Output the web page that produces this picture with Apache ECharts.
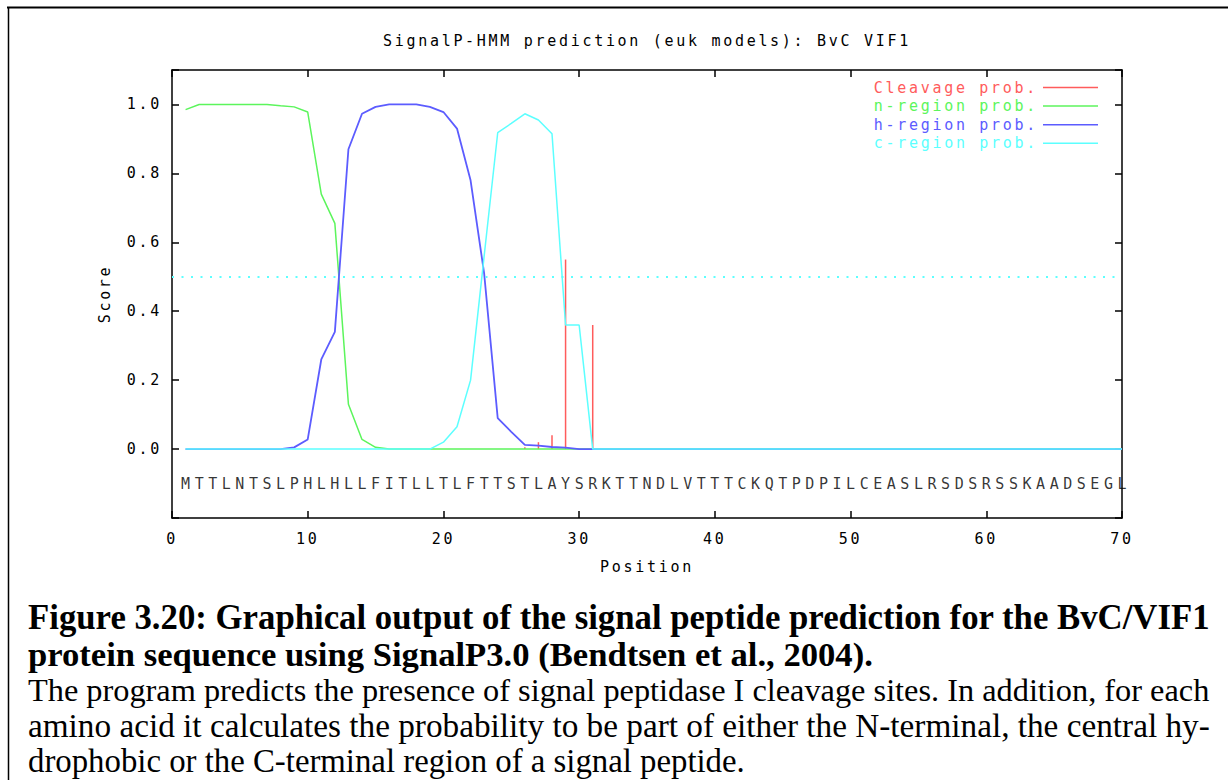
<!DOCTYPE html>
<html>
<head>
<meta charset="utf-8">
<script src="https://cdn.jsdelivr.net/npm/echarts@6/dist/echarts.min.js"></script>
<style>
  html, body { margin: 0; padding: 0; background: #fff; }
  #chart { width: 1228px; height: 780px; }
  #chart svg text[style*="Mono"] { letter-spacing: 2.7px; }
</style>
</head>
<body>
<div id="chart"></div>
<script>
// ---- data ----
const titleText = 'SignalP-HMM prediction (euk models): BvC VIF1';
const sequence = ['M','T','T','L','N','T','S','L','P','H','L','H','L','L','F','I','T','L','L','T',
                  'L','F','T','T','S','T','L','A','Y','S','R','K','T','T','N','D','L','V','T','T',
                  'T','C','K','Q','T','P','D','P','I','L','C','E','A','S','L','R','S','D','S','R',
                  'S','S','K','A','A','D','S','E','G','L'];
const seriesNames = ['Cleavage prob.', 'n-region prob.', 'h-region prob.', 'c-region prob.'];
const cleavage = [0,0,0,0,0,0,0,0,0,0, 0,0,0,0,0,0,0,0,0,0, 0,0,0,0,0,0.005,0.02,0.04,0.55,0,
                  0.36,0,0,0,0,0,0,0,0,0, 0,0,0,0,0,0,0,0,0,0, 0,0,0,0,0,0,0,0,0,0, 0,0,0,0,0,0,0,0,0,0];
const nRegion = [0.985,1,1,1,1,1,1,0.996,0.993,0.978, 0.74,0.655,0.13,0.028,0.005,0,0,0,0,0,
                 0,0,0,0,0,0,0,0,0,0, 0,0,0,0,0,0,0,0,0,0, 0,0,0,0,0,0,0,0,0,0, 0,0,0,0,0,0,0,0,0,0, 0,0,0,0,0,0,0,0,0,0];
const hRegion = [0,0,0,0,0,0,0,0,0.005,0.028, 0.26,0.34,0.87,0.973,0.993,1,1,1,0.993,0.978,
                 0.93,0.78,0.51,0.09,0.05,0.012,0.01,0.006,0.004,0, 0,0,0,0,0,0,0,0,0,0,
                 0,0,0,0,0,0,0,0,0,0, 0,0,0,0,0,0,0,0,0,0, 0,0,0,0,0,0,0,0,0,0];
const cRegion = [0,0,0,0,0,0,0,0,0,0, 0,0,0,0,0,0,0,0,0,0.02, 0.065,0.2,0.56,0.918,0.945,0.973,0.955,0.915,0.36,0.36,
                 0,0,0,0,0,0,0,0,0,0, 0,0,0,0,0,0,0,0,0,0, 0,0,0,0,0,0,0,0,0,0, 0,0,0,0,0,0,0,0,0,0];
const cutoff = 0.5;
const xTicks = [0, 10, 20, 30, 40, 50, 60, 70];
const yTicks = [0.0, 0.2, 0.4, 0.6, 0.8, 1.0];
const captionLines = [
  'Figure 3.20: Graphical output of the signal peptide prediction for the BvC/VIF1',
  'protein sequence using SignalP3.0 (Bendtsen et al., 2004).',
  'The program predicts the presence of signal peptidase I cleavage sites. In addition, for each',
  'amino acid it calculates the probability to be part of either the N-terminal, the central hy-',
  'drophobic or the C-terminal region of a signal peptide.'
];

// ---- styles ----
const colors = ['#ff5c5c', '#5cf55c', '#5c5cff', '#5cffff'];
const MONO = 'DejaVu Sans Mono';
const FS = 15;
const LS = 2.7;

const toXY = arr => arr.map((v, i) => [i + 1, v]);

// caption font fitting
const mctx = document.createElement('canvas').getContext('2d');
function fit(text, weight, target) {
  mctx.font = weight + ' 100px "Liberation Serif"';
  return 100 * target / mctx.measureText(text).width;
}
const boldSize = fit(captionLines[1], 'bold', 845);
const l1Size = fit(captionLines[0], 'bold', 1182);
const l3Size = fit(captionLines[2], 'normal', 1182);
const l4Size = fit(captionLines[3], 'normal', 1182);
const normSize = (l3Size + l4Size) / 2;
const capSizes = [l1Size, boldSize, l3Size, l4Size, normSize];
const capWeights = ['bold', 'bold', 'normal', 'normal', 'normal'];
const capY = [617, 654, 690, 725, 761];

const chart = echarts.init(document.getElementById('chart'), null, { renderer: 'svg' });

const axisLineStyle = { show: true, onZero: false, lineStyle: { color: '#000', width: 1.5 } };
const tickStyle = { show: true, inside: true, length: 7, lineStyle: { color: '#000', width: 1.5 } };

const option = {
  animation: false,
  backgroundColor: '#fff',
  title: {
    text: titleText,
    left: 383,
    top: 33,
    padding: 0,
    textStyle: { fontFamily: MONO, fontSize: FS, fontWeight: 'normal', color: '#000' }
  },
  legend: {
    orient: 'vertical',
    right: 130,
    top: 80,
    padding: 0,
    align: 'right',
    icon: 'rect',
    itemWidth: 55,
    itemHeight: 1.5,
    itemGap: 3.6,
    selectedMode: false,
    textStyle: { fontFamily: MONO, fontSize: FS },
    data: seriesNames.map((n, i) => ({ name: n, textStyle: { color: colors[i] } }))
  },
  grid: { left: 172, right: 106, top: 70, bottom: 262, containLabel: false, outerBoundsMode: 'none' },
  xAxis: [
    {
      type: 'value', min: 0, max: 70, interval: 10, position: 'bottom',
      name: 'Position', nameLocation: 'middle', nameGap: 41,
      nameTextStyle: { fontFamily: MONO, fontSize: FS, color: '#000' },
      axisLine: axisLineStyle, axisTick: tickStyle, splitLine: { show: false },
      axisLabel: { margin: 13, fontFamily: MONO, fontSize: FS, color: '#000',
        formatter: v => (xTicks.indexOf(v) >= 0 ? String(v) : '') }
    },
    {
      type: 'value', min: 0, max: 70, interval: 10, position: 'top',
      axisLine: axisLineStyle, axisTick: tickStyle, splitLine: { show: false },
      axisLabel: { show: false }
    }
  ],
  yAxis: [
    {
      type: 'value', min: -0.2, max: 1.1, interval: 0.2, position: 'left',
      name: 'Score', nameLocation: 'middle', nameGap: 60,
      nameTextStyle: { fontFamily: MONO, fontSize: FS, color: '#000' },
      axisLine: axisLineStyle, axisTick: tickStyle, splitLine: { show: false },
      axisLabel: { margin: 10, fontFamily: MONO, fontSize: FS, color: '#000',
        formatter: v => {
          const r = Math.round(v * 10) / 10;
          return (yTicks.some(t => Math.abs(t - r) < 1e-9) && Math.abs(v - r) < 1e-6) ? r.toFixed(1) : '';
        } }
    },
    {
      type: 'value', min: -0.2, max: 1.1, interval: 0.2, position: 'right',
      axisLine: axisLineStyle, axisTick: tickStyle, splitLine: { show: false },
      axisLabel: { show: false }
    }
  ],
  series: [
    {
      name: seriesNames[0], type: 'bar', xAxisIndex: 0, yAxisIndex: 0,
      data: toXY(cleavage), barWidth: 1.5, itemStyle: { color: colors[0] },
      silent: true, emphasis: { disabled: true }, z: 2
    },
    {
      name: seriesNames[1], type: 'line', data: toXY(nRegion), showSymbol: false, symbol: 'none',
      lineStyle: { color: colors[1], width: 1.5 }, itemStyle: { color: colors[1] },
      silent: true, emphasis: { disabled: true }, z: 3
    },
    {
      name: seriesNames[2], type: 'line', data: toXY(hRegion), showSymbol: false, symbol: 'none',
      lineStyle: { color: colors[2], width: 1.8 }, itemStyle: { color: colors[2] },
      silent: true, emphasis: { disabled: true }, z: 4
    },
    {
      name: seriesNames[3], type: 'line', data: toXY(cRegion), showSymbol: false, symbol: 'none',
      lineStyle: { color: colors[3], width: 1.5 }, itemStyle: { color: colors[3] },
      silent: true, emphasis: { disabled: true }, z: 5,
      markLine: {
        silent: true, symbol: ['none', 'none'], label: { show: false },
        lineStyle: { color: colors[3], width: 2, type: [2, 7.5] },
        emphasis: { disabled: true },
        data: [{ yAxis: cutoff }]
      }
    },
    {
      name: 'sequence', type: 'scatter', symbolSize: 0, silent: true,
      data: sequence.map((s, i) => [i + 1, -0.1]),
      label: {
        show: true, position: 'inside', offset: [LS / 2, 0],
        fontFamily: MONO, fontSize: FS, color: '#000',
        formatter: p => sequence[p.dataIndex]
      },
      emphasis: { disabled: true }, z: 6
    }
  ],
  graphic: [
    { type: 'line', silent: true, shape: { x1: 7, y1: 7.5, x2: 1228, y2: 7.5 }, style: { stroke: '#000', lineWidth: 2 } },
    { type: 'line', silent: true, shape: { x1: 8.5, y1: 7, x2: 8.5, y2: 780 }, style: { stroke: '#000', lineWidth: 1.5 } }
  ].concat(captionLines.map((t, i) => ({
    type: 'text', silent: true,
    style: {
      text: t, x: 28, y: capY[i],
      font: capWeights[i] + ' ' + capSizes[i].toFixed(2) + 'px "Liberation Serif"',
      fill: '#000', textAlign: 'left', textVerticalAlign: 'middle'
    }
  })))
};

chart.setOption(option);
</script>
</body>
</html>
